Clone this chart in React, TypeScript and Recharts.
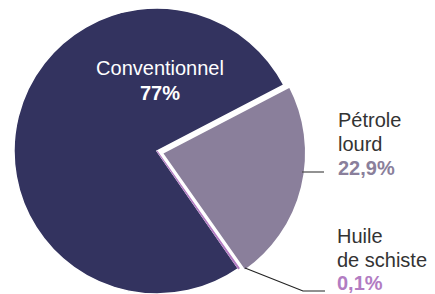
import React from 'react';
import { PieChart, Pie, Cell } from 'recharts';

const categories = ['Pétrole lourd', 'Huile de schiste', 'Conventionnel'];
const shares = [22.9, 0.1, 77];
const shareLabels = ['22,9%', '0,1%', '77%'];
const nameLines = [['Pétrole', 'lourd'], ['Huile', 'de schiste'], ['Conventionnel']];
const colors = ['#8a7f9b', '#b27cc2', '#33335f'];
const valueColors = ['#8a7f9b', '#b27cc2', '#ffffff'];

const data = categories.map((name, i) => ({ name, value: shares[i] }));

const FONT = '"Liberation Sans", Arial, Helvetica, sans-serif';

const START = 27.5;

function renderLabel(which: number) {
  return (props: any) => {
    const { cx, cy, index } = props;
    if (index !== which) return null;
    if (which === 2) {
      return (
        <g>
          <text x={cx + 3} y={cy - 76} textAnchor="middle" fill="#ffffff" fontFamily={FONT} fontSize={20}>
            {nameLines[2][0]}
          </text>
          <text x={cx + 3} y={cy - 51} textAnchor="middle" fill={valueColors[2]} fontFamily={FONT} fontSize={20} fontWeight="bold">
            {shareLabels[2]}
          </text>
        </g>
      );
    }
    if (which === 0) {
      return (
        <g>
          <line x1={cx + 140} y1={cy + 19} x2={cx + 162} y2={cy + 19} stroke="#4a4a4a" strokeWidth={1.2} />
          <text x={cx + 176} y={cy - 26} fill="#333333" fontFamily={FONT} fontSize={20}>{nameLines[0][0]}</text>
          <text x={cx + 176} y={cy - 2} fill="#333333" fontFamily={FONT} fontSize={20}>{nameLines[0][1]}</text>
          <text x={cx + 176} y={cy + 22} fill={valueColors[0]} fontFamily={FONT} fontSize={20} fontWeight="bold">{shareLabels[0]}</text>
        </g>
      );
    }
    return (
      <g>
        <polyline
          points={`${cx + 88},${cy + 117} ${cx + 146},${cy + 140} ${cx + 168},${cy + 140}`}
          fill="none"
          stroke="#222222"
          strokeWidth={1.2}
        />
        <text x={cx + 180} y={cy + 92} fill="#333333" fontFamily={FONT} fontSize={20}>{nameLines[1][0]}</text>
        <text x={cx + 180} y={cy + 116} fill="#333333" fontFamily={FONT} fontSize={20}>{nameLines[1][1]}</text>
        <text x={cx + 180} y={cy + 139} fill={valueColors[1]} fontFamily={FONT} fontSize={20} fontWeight="bold">{shareLabels[1]}</text>
      </g>
    );
  };
}

export default function App() {
  return (
    <div style={{ position: 'absolute', left: 0, top: 0, background: '#ffffff' }}>
      <PieChart width={435} height={294} margin={{ top: 0, right: 0, bottom: 0, left: 0 }}>
        <Pie
          data={data}
          dataKey="value"
          nameKey="name"
          cx={157}
          cy={151}
          outerRadius={143}
          startAngle={START}
          endAngle={START - 360}
          isAnimationActive={false}
          label={renderLabel(2)}
          labelLine={false}
        >
          {data.map((d, i) => (
            <Cell key={d.name} fill={i === 2 ? colors[2] : 'transparent'} stroke={i === 2 ? '#ffffff' : 'none'} strokeWidth={1.5} />
          ))}
        </Pie>
        <Pie
          data={data}
          dataKey="value"
          nameKey="name"
          cx={162}
          cy={153}
          outerRadius={144}
          startAngle={START}
          endAngle={START - 360}
          isAnimationActive={false}
          label={renderLabel(0)}
          labelLine={false}
        >
          {data.map((d, i) => (
            <Cell key={d.name} fill={i === 0 ? colors[0] : 'transparent'} stroke={i === 0 ? '#ffffff' : 'none'} strokeWidth={2} />
          ))}
        </Pie>
        <Pie
          data={data}
          dataKey="value"
          nameKey="name"
          cx={157}
          cy={151}
          outerRadius={143}
          startAngle={START}
          endAngle={START - 360}
          isAnimationActive={false}
          label={renderLabel(1)}
          labelLine={false}
        >
          {data.map((d, i) => (
            <Cell key={d.name} fill={i === 1 ? colors[1] : 'transparent'} stroke={i === 1 ? colors[1] : 'none'} strokeWidth={1.2} />
          ))}
        </Pie>
      </PieChart>
    </div>
  );
}
